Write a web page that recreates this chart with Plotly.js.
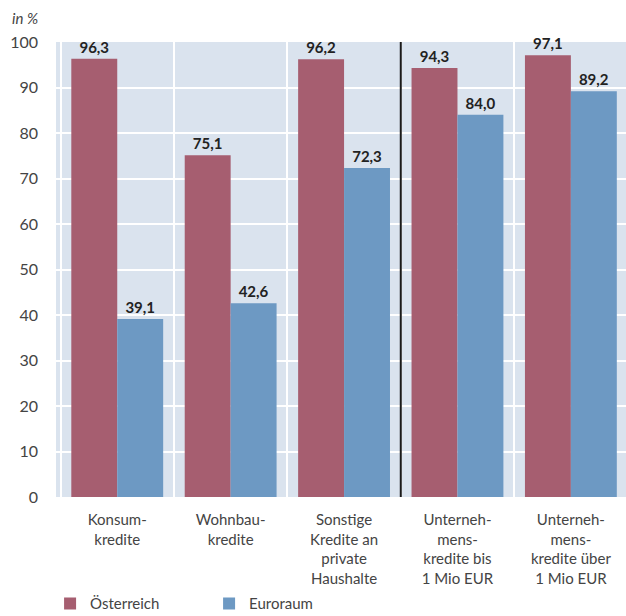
<!DOCTYPE html>
<html>
<head>
<meta charset="utf-8">
<script src="https://cdn.plot.ly/plotly-3.0.1.min.js"></script>
<style>
  html, body { margin: 0; padding: 0; background: #ffffff; }
  #chart { width: 626px; height: 616px; }
</style>
</head>
<body>
<div id="chart"></div>
<script>
// Kreditkategorien (Achsenbeschriftung, mehrzeilig)
const categories = [
  "Konsum-<br>kredite",
  "Wohnbau-<br>kredite",
  "Sonstige<br>Kredite an<br>private<br>Haushalte",
  "Unterneh-<br>mens-<br>kredite bis<br>1 Mio EUR",
  "Unterneh-<br>mens-<br>kredite über<br>1 Mio EUR"
];

// Anteile in %
const seriesNames = ["Österreich", "Euroraum"];
const oesterreich = [96.3, 75.1, 96.2, 94.3, 97.1];
const euroraum    = [39.1, 42.6, 72.3, 84.0, 89.2];

const yTicks = [0, 10, 20, 30, 40, 50, 60, 70, 80, 90, 100];

const colors = ["#a65e70", "#6d99c3"];
const fontFamily = "Lato, 'Open Sans', 'DejaVu Sans', sans-serif";

function barTrace(name, values, color) {
  return {
    type: "bar",
    name: name,
    x: categories,
    y: values,
    marker: { color: color, line: { width: 0 } },
    text: values.map(v => v.toFixed(1).replace(".", ",")),
    textposition: "outside",
    cliponaxis: false,
    textfont: { family: fontFamily, size: 15, color: "#222222", weight: "bold" },
    hoverinfo: "skip"
  };
}

const data = [
  barTrace(seriesNames[0], oesterreich, colors[0]),
  barTrace(seriesNames[1], euroraum, colors[1])
];

const layout = {
  width: 626,
  height: 616,
  margin: { l: 56, r: 0, t: 42, b: 119, pad: 0 },
  paper_bgcolor: "#ffffff",
  plot_bgcolor: "#dae3ee",
  separators: ",.",
  barmode: "group",
  bargap: 0.19,
  bargroupgap: 0,
  font: { family: fontFamily, color: "#444444", size: 15 },
  xaxis: {
    type: "category",
    range: [-0.54, 4.486],
    tickson: "boundaries",
    showgrid: true,
    gridcolor: "#ffffff",
    gridwidth: 2,
    showline: false,
    zeroline: false,
    ticks: "",
    ticklabelstandoff: 12,
    tickfont: { family: fontFamily, size: 15, color: "#444444" },
    automargin: false,
    fixedrange: true
  },
  yaxis: {
    range: [0, 100],
    tickvals: yTicks,
    ticktext: yTicks.map(String),
    showgrid: true,
    gridcolor: "#ffffff",
    gridwidth: 2,
    zeroline: false,
    showline: false,
    ticks: "",
    ticklabelstandoff: 17,
    tickfont: { family: fontFamily, size: 16, color: "#444444" },
    automargin: false,
    fixedrange: true
  },
  legend: {
    orientation: "h",
    xref: "container",
    yref: "container",
    x: 0.08,
    xanchor: "left",
    y: 0.02,
    yanchor: "middle",
    entrywidth: 114,
    entrywidthmode: "pixels",
    font: { family: fontFamily, size: 15, color: "#444444" },
    bgcolor: "rgba(0,0,0,0)"
  },
  shapes: [
    {
      // Trennlinie zwischen Haushalts- und Unternehmenskrediten
      type: "line",
      xref: "x", yref: "paper",
      x0: 2.5, x1: 2.5, y0: 0, y1: 1,
      line: { color: "#1a1a1a", width: 2 }
    }
  ],
  annotations: [
    {
      text: "<i>in %</i>",
      xref: "paper", yref: "paper",
      x: -0.08, y: 1.053,
      xanchor: "left", yanchor: "middle",
      showarrow: false,
      font: { family: fontFamily, size: 15, color: "#444444" }
    }
  ]
};

Plotly.newPlot("chart", data, layout, { displayModeBar: false, staticPlot: true });
</script>
</body>
</html>
